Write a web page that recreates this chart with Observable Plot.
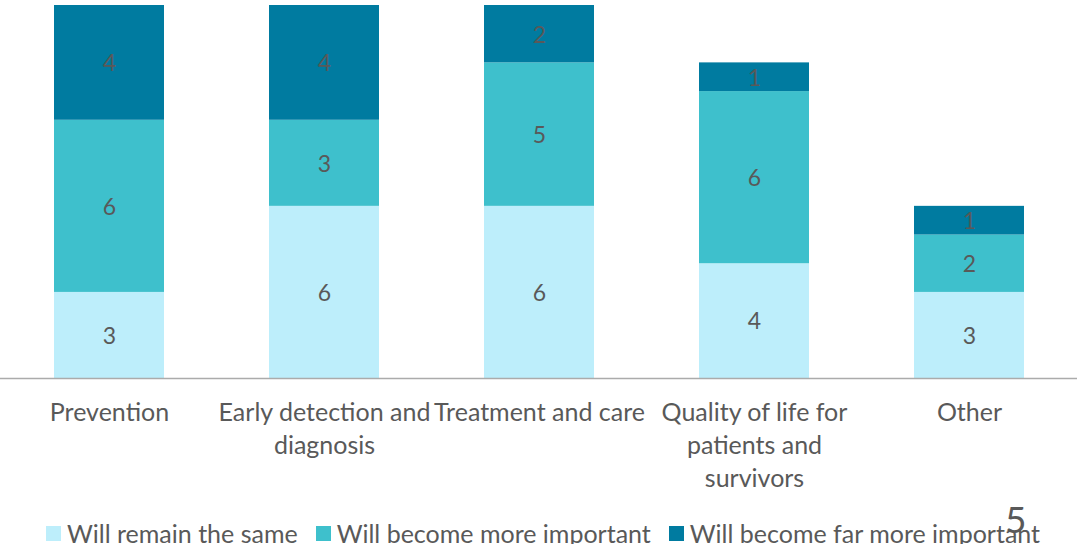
<!DOCTYPE html>
<html>
<head>
<meta charset="utf-8">
<script src="https://cdn.jsdelivr.net/npm/d3@7"></script>
<script src="https://cdn.jsdelivr.net/npm/@observablehq/plot@0.6"></script>
<style>
  html, body { margin: 0; padding: 0; background: #fff; }
  #wrap { position: relative; width: 1089px; height: 544px; overflow: hidden; font-family: Lato, "Noto Sans", sans-serif; color: #595959; }
  #legend { position: absolute; left: 46px; top: 521px; display: flex; align-items: center; font-size: 25px; white-space: nowrap; line-height: 25px; }
  .item { display: flex; align-items: center; margin-right: 18px; }
  .sw { width: 15px; height: 15px; margin-right: 6px; }
  #pagenum { position: absolute; left: 1005px; top: 500px; font-size: 37px; line-height: 37px; color: #595959; }
</style>
</head>
<body>
<div id="wrap"></div>
<script>
const categories = ["Prevention", "Early detection and diagnosis", "Treatment and care", "Quality of life for patients and survivors", "Other"];
const tickLabels = ["Prevention", "Early detection and\ndiagnosis", "Treatment and care", "Quality of life for\npatients and\nsurvivors", "Other"];
const series = ["Will remain the same", "Will become more important", "Will become far more important"];
const remainSame = [3, 6, 6, 4, 3];
const moreImportant = [6, 3, 5, 6, 2];
const farMoreImportant = [4, 4, 2, 1, 1];
const colors = ["#BDEEFB", "#3EC0CC", "#007BA0"];

const seriesValues = [remainSame, moreImportant, farMoreImportant];
const data = [];
series.forEach((s, si) => {
  categories.forEach((c, ci) => {
    data.push({category: c, series: s, value: seriesValues[si][ci]});
  });
});

const chart = Plot.plot({
  width: 1089,
  height: 510,
  marginTop: 5,
  marginBottom: 132,
  marginLeft: 0,
  marginRight: 12,
  style: {fontFamily: "Lato, 'Noto Sans', sans-serif", color: "#595959", background: "#fff"},
  x: {domain: categories, paddingInner: 0.49, paddingOuter: 0.245, label: null},
  y: {domain: [0, 13], axis: null},
  color: {domain: series, range: colors},
  marks: [
    Plot.barY(data, Plot.stackY({x: "category", y: "value", fill: "series", order: series})),
    Plot.text(data, Plot.stackY({x: "category", y: "value", z: "series", order: series, text: d => String(d.value), fill: "#595959", fontSize: 23, dy: 1})),
    Plot.ruleY([0], {stroke: "#ABABAB", strokeWidth: 1.5}),
    Plot.axisX({tickSize: 0, tickPadding: 19, fontSize: 25, lineHeight: 1.32, tickFormat: (d, i) => tickLabels[categories.indexOf(d)], fill: "#595959"})
  ]
});

const wrap = document.getElementById("wrap");
wrap.appendChild(chart);

const legend = document.createElement("div");
legend.id = "legend";
series.forEach((s, i) => {
  const item = document.createElement("div");
  item.className = "item";
  const sw = document.createElement("span");
  sw.className = "sw";
  sw.style.background = colors[i];
  const t = document.createElement("span");
  t.textContent = s;
  item.appendChild(sw);
  item.appendChild(t);
  legend.appendChild(item);
});
wrap.appendChild(legend);

const pn = document.createElement("div");
pn.id = "pagenum";
pn.textContent = "5";
wrap.appendChild(pn);
</script>
</body>
</html>
